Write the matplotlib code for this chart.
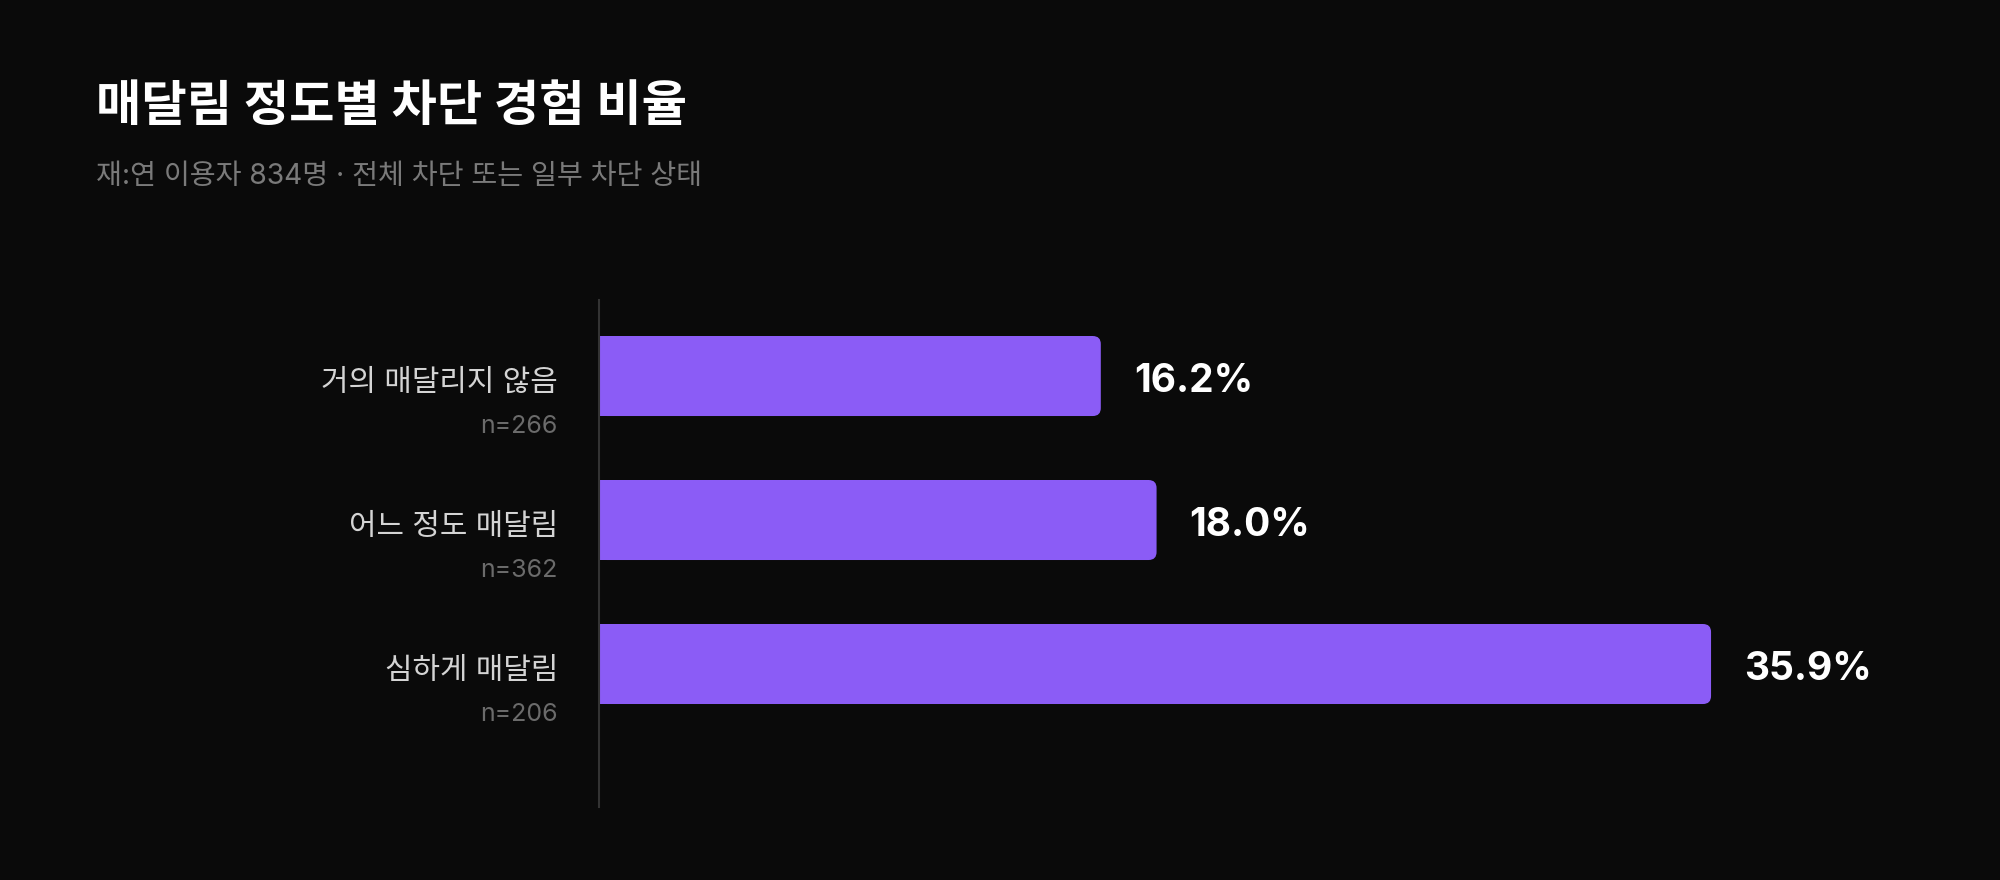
import matplotlib
matplotlib.use("Agg")
import matplotlib.pyplot as plt
from matplotlib.patches import FancyBboxPatch

# ---- data ----
categories = ["거의 매달리지 않음", "어느 정도 매달림", "심하게 매달림"]
sample_sizes = [266, 362, 206]
values = [16.2, 18.0, 35.9]
title = "매달림 정도별 차단 경험 비율"
subtitle = "재:연 이용자 834명 · 전체 차단 또는 일부 차단 상태"

# ---- style ----
BG = "#0a0a0a"
BAR = "#8b5cf6"
FAM = ["Inter", "Noto Sans CJK KR", "DejaVu Sans"]
plt.rcParams["font.family"] = FAM

W, H = 2000, 880
fig = plt.figure(figsize=(W / 100, H / 100), dpi=100, facecolor=BG)

ax_left_px, ax_right_px = 599, 1900
ax_top_px, ax_bot_px = 300, 807
ax = fig.add_axes([ax_left_px / W, 1 - ax_bot_px / H,
                   (ax_right_px - ax_left_px) / W, (ax_bot_px - ax_top_px) / H])
ax.set_facecolor(BG)
xmax = 42.0
ax.set_xlim(0, xmax)
ax.set_ylim(2.993, -0.528)

px_per_x = (ax_right_px - ax_left_px) / xmax
px_per_y = (ax_bot_px - ax_top_px) / (2.993 + 0.528)
bar_h = 80 / px_per_y
r_px = 8
rx = r_px / px_per_x
aspect = (r_px / px_per_y) / rx

ypos = list(range(len(categories)))
# square-left part
ax.barh(ypos, [v - rx for v in values], height=bar_h, color=BAR, linewidth=0, zorder=2)
# rounded full bar
for y, v in zip(ypos, values):
    p = FancyBboxPatch((0, y - bar_h / 2), v, bar_h,
                       boxstyle=f"round,pad=0,rounding_size={rx}",
                       mutation_aspect=aspect, facecolor=BAR, edgecolor="none", zorder=2)
    ax.add_patch(p)

for y, v, c, n in zip(ypos, values, categories, sample_sizes):
    ax.annotate(f"{v:.1f}%", xy=(v, y), xytext=(33, -5), textcoords="offset pixels",
                ha="left", va="center", color="white", fontsize=28, fontweight="bold",
                family=FAM)
    ax.annotate(c, xy=(0, y), xytext=(-41, -7), textcoords="offset pixels",
                ha="right", va="center", color="#d4d4d4", fontsize=21.5, family=FAM)
    ax.annotate(f"n={n}", xy=(0, y), xytext=(-41, -50), textcoords="offset pixels",
                ha="right", va="center", color="#6b6b6b", fontsize=18, family=FAM)

for s in ["top", "right", "bottom"]:
    ax.spines[s].set_visible(False)
ax.spines["left"].set_color("#333333")
ax.spines["left"].set_linewidth(1.5)
ax.set_xticks([])
ax.set_yticks([])

fig.text(0.048, 1 - 108 / H, title, ha="left", va="center", color="white",
         fontsize=35.5, fontweight="bold", family=FAM)
fig.text(0.048, 1 - 176 / H, subtitle, ha="left", va="center", color="#7a7a7a",
         fontsize=20.3, family=FAM)

fig.savefig("out.png", dpi=100, facecolor=BG)
